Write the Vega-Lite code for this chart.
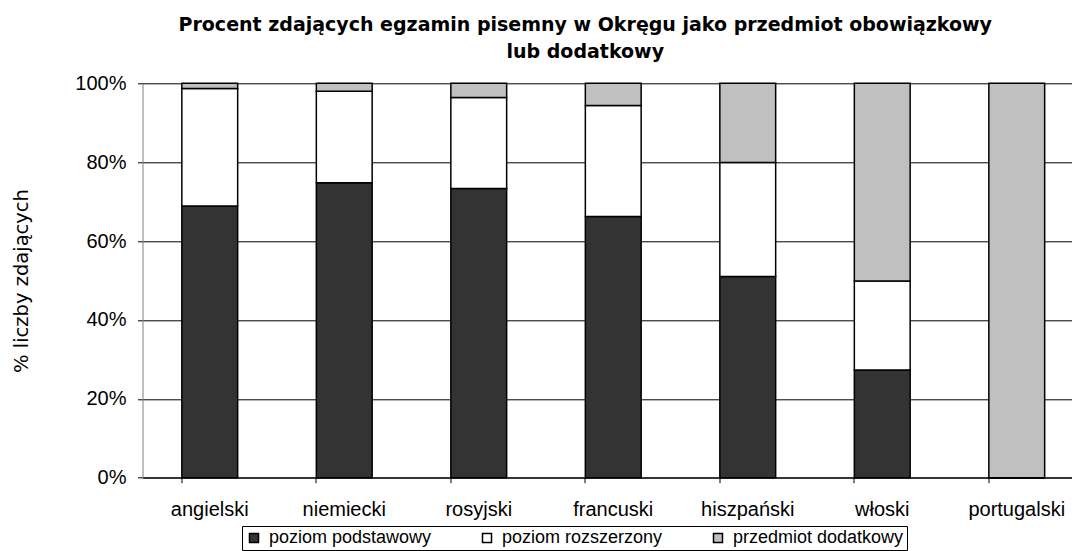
{
  "$schema": "https://vega.github.io/schema/vega-lite/v6.json",
  "autosize": {"type": "none"},
  "width": 929.5,
  "height": 394.4,
  "padding": {"left": 142.5, "top": 83.3, "right": 0, "bottom": 73.3},
  "background": "white",
  "title": {
    "text": ["Procent zdających egzamin pisemny w Okręgu jako przedmiot obowiązkowy", "lub dodatkowy"],
    "font": "DejaVu Sans",
    "fontSize": 19,
    "fontWeight": "bold",
    "lineHeight": 27,
    "anchor": "middle",
    "dx": -22,
    "offset": 11,
    "color": "#000"
  },
  "data": {
    "values": [
      {"jezyk": "angielski", "poziom": "poziom podstawowy", "procent": 68.9},
      {"jezyk": "angielski", "poziom": "poziom rozszerzony", "procent": 29.8},
      {"jezyk": "angielski", "poziom": "przedmiot dodatkowy", "procent": 1.3},
      {"jezyk": "niemiecki", "poziom": "poziom podstawowy", "procent": 74.8},
      {"jezyk": "niemiecki", "poziom": "poziom rozszerzony", "procent": 23.2},
      {"jezyk": "niemiecki", "poziom": "przedmiot dodatkowy", "procent": 2.0},
      {"jezyk": "rosyjski", "poziom": "poziom podstawowy", "procent": 73.3},
      {"jezyk": "rosyjski", "poziom": "poziom rozszerzony", "procent": 23.1},
      {"jezyk": "rosyjski", "poziom": "przedmiot dodatkowy", "procent": 3.6},
      {"jezyk": "francuski", "poziom": "poziom podstawowy", "procent": 66.2},
      {"jezyk": "francuski", "poziom": "poziom rozszerzony", "procent": 28.2},
      {"jezyk": "francuski", "poziom": "przedmiot dodatkowy", "procent": 5.6},
      {"jezyk": "hiszpański", "poziom": "poziom podstawowy", "procent": 51.0},
      {"jezyk": "hiszpański", "poziom": "poziom rozszerzony", "procent": 28.9},
      {"jezyk": "hiszpański", "poziom": "przedmiot dodatkowy", "procent": 20.1},
      {"jezyk": "włoski", "poziom": "poziom podstawowy", "procent": 27.3},
      {"jezyk": "włoski", "poziom": "poziom rozszerzony", "procent": 22.6},
      {"jezyk": "włoski", "poziom": "przedmiot dodatkowy", "procent": 50.1},
      {"jezyk": "portugalski", "poziom": "poziom podstawowy", "procent": 0},
      {"jezyk": "portugalski", "poziom": "poziom rozszerzony", "procent": 0},
      {"jezyk": "portugalski", "poziom": "przedmiot dodatkowy", "procent": 100}
    ]
  },
  "mark": {"type": "bar", "stroke": "#000", "strokeWidth": 1.5},
  "encoding": {
    "x": {
      "field": "jezyk",
      "type": "nominal",
      "sort": null,
      "scale": {"range": [0, 941.5], "paddingInner": 0.585, "paddingOuter": 0.2925},
      "axis": {
        "title": null,
        "labelAngle": 0,
        "labelFont": "Liberation Sans",
        "labelFontSize": 20,
        "labelColor": "#000",
        "labelPadding": 16.5,
        "tickSize": 5,
        "tickColor": "#000",
        "bandPosition": 0,
        "domainColor": "#000",
        "domainWidth": 1,
        "grid": false
      }
    },
    "y": {
      "field": "procent",
      "type": "quantitative",
      "stack": "zero",
      "scale": {"domain": [0, 100], "nice": false},
      "axis": {
        "values": [0, 20, 40, 60, 80, 100],
        "labelExpr": "datum.value + '%'",
        "labelFont": "Liberation Sans",
        "labelFontSize": 20,
        "labelColor": "#000",
        "labelPadding": 11.5,
        "tickSize": 5,
        "tickColor": "#000",
        "domainColor": "#808080",
        "grid": true,
        "gridColor": "#000",
        "gridWidth": 1,
        "gridOpacity": 1,
        "title": "% liczby zdających",
        "titleFont": "DejaVu Sans",
        "titleFontSize": 19.5,
        "titleFontWeight": "normal",
        "titleColor": "#000",
        "titleX": -121.5,
        "titleY": 197.2,
        "titleAngle": -90,
        "titleAlign": "center",
        "titleBaseline": "middle"
      }
    },
    "color": {
      "field": "poziom",
      "type": "nominal",
      "scale": {
        "domain": ["poziom podstawowy", "poziom rozszerzony", "przedmiot dodatkowy"],
        "range": ["#333333", "#ffffff", "#c0c0c0"]
      },
      "legend": {
        "orient": "none",
        "direction": "horizontal",
        "legendX": 99.5,
        "legendY": 442.7,
        "title": null,
        "padding": 3,
        "strokeColor": "#000",
        "fillColor": "#fff",
        "symbolType": "square",
        "symbolSize": 81,
        "symbolStrokeColor": "#000",
        "symbolStrokeWidth": 1.5,
        "symbolOpacity": 1,
        "labelFont": "Liberation Sans",
        "labelFontSize": 18,
        "labelColor": "#000",
        "labelOffset": 6,
        "labelLimit": 400,
        "columnPadding": 46
      }
    },
    "order": {"field": "poziom", "sort": "ascending"}
  },
  "config": {
    "view": {"stroke": null}
  }
}
